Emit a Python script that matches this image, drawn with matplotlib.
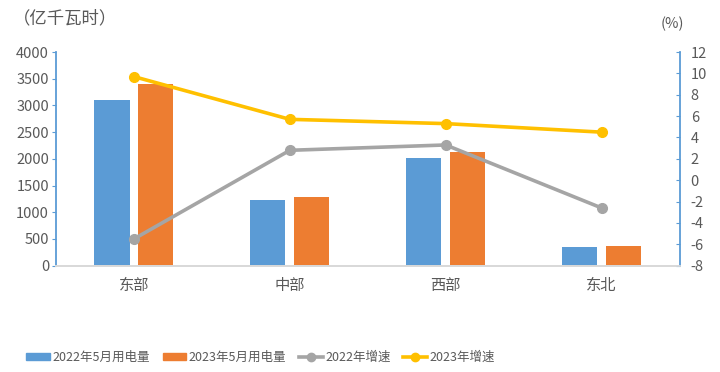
import numpy as np
import matplotlib
matplotlib.use('Agg')
import matplotlib.pyplot as plt
from matplotlib.patches import Patch
from matplotlib.lines import Line2D

plt.rcParams['font.family'] = ['Noto Sans CJK SC', 'DejaVu Sans']
plt.rcParams['axes.unicode_minus'] = False

# DATA
regions = ['东部', '中部', '西部', '东北']
use_2022 = [3100, 1230, 2015, 355]
use_2023 = [3410, 1290, 2130, 368]
growth_2022 = [-5.5, 2.8, 3.3, -2.6]
growth_2023 = [9.7, 5.7, 5.3, 4.5]

blue = '#5B9BD5'
orange = '#ED7D31'
grey = '#A5A5A5'
yellow = '#FFC000'
txt = '#595959'

fig = plt.figure(figsize=(7.2, 3.72), dpi=100)
ax = fig.add_axes([0.0778, 0.286, 0.866, 0.574])
ax2 = ax.twinx()

x = np.arange(len(regions))
w = 0.225
ax.bar(x - 0.141, use_2022, w, color=blue, zorder=2)
ax.bar(x + 0.141, use_2023, w, color=orange, zorder=2)

ax2.plot(x, growth_2022, color=grey, lw=2.6, marker='o', ms=7, zorder=3)
ax2.plot(x, growth_2023, color=yellow, lw=2.6, marker='o', ms=7, zorder=3)

ax.set_xlim(-0.5, len(regions) - 0.5)
ax.set_ylim(0, 4000)
ax.set_yticks(range(0, 4001, 500))
ax2.set_ylim(-8, 12)
ax2.set_yticks(range(-8, 13, 2))

ax.set_xticks(x)
ax.set_xticklabels(regions, fontsize=11, color=txt)
ax.tick_params(axis='x', length=0, pad=8)
ax.tick_params(axis='y', colors=blue, labelcolor=txt, labelsize=10.5, length=3, direction='out', pad=2)
ax2.tick_params(axis='y', colors=blue, labelcolor=txt, labelsize=10.5, length=3, direction='in', pad=8)

for a in (ax, ax2):
    a.spines['top'].set_visible(False)
    a.spines['left'].set_color(blue)
    a.spines['right'].set_color(blue)
    a.spines['bottom'].set_color('#D9D9D9')
    a.spines['left'].set_linewidth(1.3)
    a.spines['right'].set_linewidth(1.3)
    a.spines['bottom'].set_linewidth(1.3)
ax.spines['right'].set_visible(False)
ax2.spines['left'].set_visible(False)

fig.text(0.018, 0.95, '（亿千瓦时）', fontsize=12.5, color=txt, ha='left', va='center')
fig.text(0.95, 0.935, '(%)', fontsize=10.5, color=txt, ha='right', va='center')

handles = [
    Patch(color=blue),
    Patch(color=orange),
    Line2D([0], [0], color=grey, lw=2.6, marker='o', ms=6),
    Line2D([0], [0], color=yellow, lw=2.6, marker='o', ms=6),
]
labels = ['2022年5月用电量', '2023年5月用电量', '2022年增速', '2023年增速']
leg = fig.legend(handles, labels, loc='center', bbox_to_anchor=(0.362, 0.04), ncol=4,
                 frameon=False, fontsize=9, handlelength=1.9, handleheight=0.45,
                 handletextpad=0.2, columnspacing=1.0)
for t in leg.get_texts():
    t.set_color(txt)

plt.savefig('out.png', dpi=100)
